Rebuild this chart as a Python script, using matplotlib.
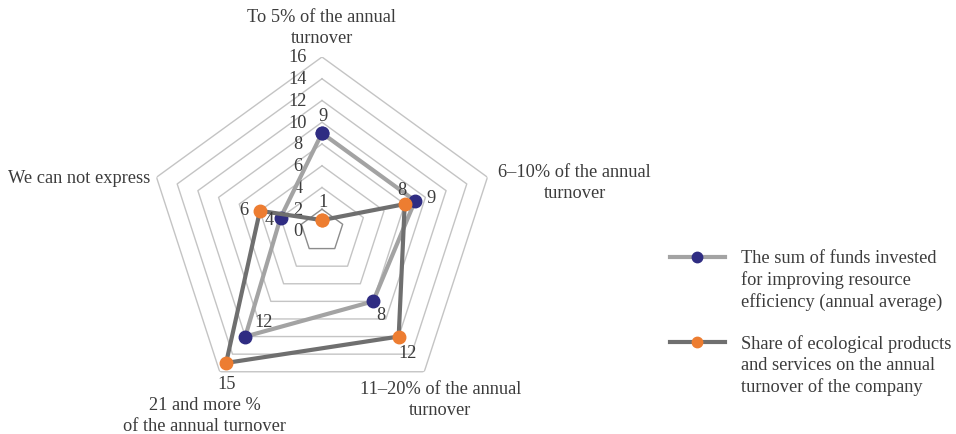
import numpy as np
import matplotlib
matplotlib.use("Agg")
import matplotlib.pyplot as plt
from matplotlib.lines import Line2D

plt.rcParams['font.family'] = ['Liberation Serif', 'DejaVu Serif']

categories = ["To 5% of the annual\nturnover",
              "6\u201310% of the annual\nturnover",
              "11\u201320% of the annual\nturnover",
              "21 and more %\nof the annual turnover",
              "We can not express"]
funds_invested = [9, 9, 8, 12, 4]
eco_share = [1, 8, 12, 15, 6]
ring_values = [0, 2, 4, 6, 8, 10, 12, 14, 16]
series_names = ["The sum of funds invested\nfor improving resource\nefficiency (annual average)",
                "Share of ecological products\nand services on the annual\nturnover of the company"]

text_col = '#3c3c3c'
fs = 13.2
n = len(categories)
theta = np.linspace(0, 2 * np.pi, n, endpoint=False)
theta_closed = np.append(theta, theta[0])

fig = plt.figure(figsize=(9.56, 4.35), dpi=100)
ax = fig.add_axes([0.1548, 0.0667, 0.364, 0.8], projection='polar')
ax.set_theta_zero_location('N')
ax.set_theta_direction(-1)
ax.set_ylim(0, 16)
ax.grid(False)
ax.spines['polar'].set_visible(False)
ax.set_xticks([])
ax.set_yticks([])
ax.patch.set_visible(False)

# pentagon grid
for r in ring_values[1:]:
    col = '#8c8c8c' if r == 2 else '#c4c4c4'
    ax.plot(theta_closed, [r] * (n + 1), color=col, lw=1.0, zorder=1)

# radial tick labels along the top spoke
for r in ring_values:
    ax.annotate(str(r), xy=(0, r), xytext=(-24, 0), textcoords='offset pixels',
                ha='center', va='center', fontsize=fs, color=text_col)

# category labels
cat_offsets = [((0, 11), 'center', 'bottom'),
               ((11, -5), 'left', 'center'),
               ((16, -8), 'center', 'top'),
               ((-15, -24), 'center', 'top'),
               ((-6, 0), 'right', 'center')]
for t, lab, (off, ha, va) in zip(theta, categories, cat_offsets):
    ax.annotate(lab, xy=(t, 16), xytext=off, textcoords='offset pixels',
                ha=ha, va=va, multialignment='center', fontsize=fs,
                color=text_col, annotation_clip=False, linespacing=1.3)

# data series
ax.plot(theta_closed, funds_invested + funds_invested[:1], color='#a3a3a3', lw=3,
        marker='o', markersize=9, markerfacecolor='#2f2c82',
        markeredgecolor='#2f2c82', zorder=3)
ax.plot(theta_closed, eco_share + eco_share[:1], color='#6f6f6f', lw=3,
        marker='o', markersize=9, markerfacecolor='#ed7d31',
        markeredgecolor='#ed7d31', zorder=4)

funds_offsets = [(1, 18), (16, 3), (8, -13), (18, 15), (-11, -2)]
eco_offsets = [(1, 19), (-3, 15), (9, -16), (0, -21), (-16, 1)]
for vals, offs in ((funds_invested, funds_offsets), (eco_share, eco_offsets)):
    for t, v, off in zip(theta, vals, offs):
        ax.annotate(str(v), xy=(t, v), xytext=off, textcoords='offset pixels',
                    ha='center', va='center', fontsize=fs, color=text_col,
                    zorder=5)

# legend
W, H = 956, 435
legend_rows = [(258, '#a3a3a3', '#2f2c82'), (343, '#6f6f6f', '#ed7d31')]
for (y, lc, mc), name in zip(legend_rows, series_names):
    fy = 1 - y / H
    fig.add_artist(Line2D([670 / W, 725 / W], [fy, fy], color=lc, lw=3))
    fig.add_artist(Line2D([697 / W], [fy], marker='o', markersize=7.5,
                          markerfacecolor=mc, markeredgecolor=mc))
    fig.text(741 / W, fy + 8 / H, name, ha='left', va='top', fontsize=fs,
             color=text_col, linespacing=1.3)

fig.savefig("out.png", dpi=100)
